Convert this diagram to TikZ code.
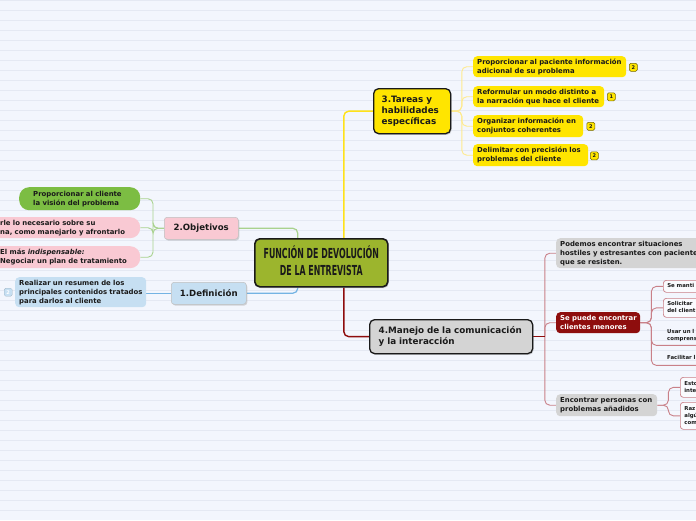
\documentclass[tikz,border=0pt]{standalone}
\usepackage{fontspec}
\usepackage{graphicx}
\setmainfont{DejaVu Sans}
\usetikzlibrary{shadows,backgrounds}
\definecolor{bg}{HTML}{F3F6FD}
\definecolor{bgl}{HTML}{E5E9F3}
\definecolor{txt}{HTML}{1A1A1A}
\definecolor{olive}{HTML}{9CB52D}
\definecolor{ylw}{HTML}{FFE500}
\definecolor{ylwline}{HTML}{FFE21A}
\definecolor{ylwsub}{HTML}{FFEA8C}
\definecolor{grey}{HTML}{D4D4D4}
\definecolor{dred}{HTML}{8E0D0D}
\definecolor{rose}{HTML}{C98088}
\definecolor{pink}{HTML}{F9C9D3}
\definecolor{grn}{HTML}{7CBD43}
\definecolor{grnline}{HTML}{A9D28E}
\definecolor{blu}{HTML}{C6DFF2}
\definecolor{bluline}{HTML}{74B3E3}
\newcommand{\linesL}[1]{\begin{tabular}{@{}l@{}}#1\end{tabular}}
\newcommand{\linesC}[1]{\begin{tabular}{@{}c@{}}#1\end{tabular}}
\tikzset{
  base/.style={anchor=north west, inner ysep=0pt, text=txt, align=left,
    font=\fontsize{6.9}{9}\selectfont\bfseries},
  yelbox/.style={base, fill=ylw, rounded corners=4, inner xsep=4pt},
  greybox/.style={base, fill=grey, rounded corners=4, inner xsep=4pt},
  redbox/.style={base, fill=dred, text=white, rounded corners=4, inner xsep=4pt},
  tinybox/.style={base, draw=rose, line width=0.7pt, fill=white!60!bg, rounded corners=3,
    inner xsep=4pt, font=\fontsize{5.4}{7}\selectfont\bfseries},
  tinyline/.style={base, inner xsep=4pt, font=\fontsize{5.4}{7}\selectfont\bfseries},
  mainbox/.style={anchor=north west, inner ysep=0pt, text=txt, align=left, draw=txt,
    line width=1.3pt, rounded corners=5, inner xsep=8pt,
    font=\fontsize{8.8}{11}\selectfont\bfseries,
    drop shadow={shadow xshift=1pt, shadow yshift=-1.3pt, opacity=.35}},
  leftbox/.style={anchor=north west, inner sep=0pt, text=txt, align=center,
    draw=black!25, line width=0.5pt, rounded corners=3,
    font=\fontsize{8.6}{11}\selectfont\bfseries,
    drop shadow={shadow xshift=1pt, shadow yshift=-1.3pt, opacity=.3}},
  pillbox/.style={base, rounded corners=10},
  badge/.style={anchor=north west, minimum size=8pt, inner sep=0pt, rounded corners=1.5,
    font=\fontsize{5}{5}\selectfont\bfseries},
  ylbadge/.style={badge, fill=ylw, draw=black!55!ylw, line width=0.5pt, text=txt},
  blbadge/.style={badge, fill=blu, draw=blu!80!black, line width=0.3pt, text=white},
  conn/.style={rounded corners=5, line width=1.4pt},
  subconn/.style={rounded corners=5, line width=0.9pt}
}
\begin{document}
\begin{tikzpicture}[x=1pt,y=-1pt]
\useasboundingbox (0,0) rectangle (696,520);
\clip (0,0) rectangle (696,520);

% ---------- nodes ----------
\node[mainbox, fill=olive, line width=1.6pt, inner xsep=0pt, align=center,
  minimum width=133pt, minimum height=48pt,
  font=\fontsize{13.8}{17}\selectfont\bfseries] (central) at (254,238)
  {\scalebox{0.57}[1]{\linesC{FUNCIÓN DE DEVOLUCIÓN\\DE LA ENTREVISTA}}};

% 3. Tareas
\node[mainbox, fill=ylw, minimum width=77pt, minimum height=45pt, text width=61pt]
  (tareas) at (373,88) {\linesL{3.Tareas y\\habilidades\\específicas}};
\node[yelbox, minimum width=153pt, minimum height=21pt, text width=145pt] (y1) at (473,56)
  {\linesL{Proporcionar al paciente información\\adicional de su problema}};
\node[yelbox, minimum width=131pt, minimum height=21pt, text width=123pt] (y2) at (473,86)
  {\linesL{Reformular un modo distinto a\\la narración que hace el cliente}};
\node[yelbox, minimum width=110pt, minimum height=22pt, text width=102pt] (y3) at (473,115)
  {\linesL{Organizar información en\\conjuntos coherentes}};
\node[yelbox, minimum width=115pt, minimum height=22pt, text width=107pt] (y4) at (473,144)
  {\linesL{Delimitar con precisión los\\problemas del cliente}};
\node[ylbadge] (b1) at (629,63) {2};
\node[ylbadge] (b2) at (607,92.5) {1};
\node[ylbadge] (b3) at (586.5,122) {2};
\node[ylbadge] (b4) at (590,151.5) {2};

% 4. Manejo
\node[mainbox, fill=grey, inner xsep=9pt, minimum width=163pt, minimum height=34pt, text width=145pt]
  (manejo) at (369,319) {\linesL{4.Manejo de la comunicación\\y la interacción}};
\node[greybox, minimum width=170pt, minimum height=30pt, text width=162pt] (podemos) at (556,238)
  {\linesL{Podemos encontrar situaciones\\hostiles y estresantes con pacientes\\que se resisten.}};
\node[redbox, minimum width=84pt, minimum height=21pt, text width=76pt] (sepuede) at (556,312)
  {\linesL{Se puede encontrar\\clientes menores}};
\node[greybox, minimum width=101pt, minimum height=22pt, text width=93pt] (encontrar) at (556,394)
  {\linesL{Encontrar personas con\\problemas añadidos}};

\node[tinybox, minimum width=50pt, minimum height=12pt, text width=42pt] (ss1) at (663,280)
  {\linesL{Se manti}};
\node[tinybox, minimum width=50pt, minimum height=19pt, text width=42pt] (ss2) at (663,298)
  {\linesL{Solicitar\\del client}};
\node[tinyline, minimum width=50pt, minimum height=19pt, text width=42pt] (ss3) at (663,326)
  {\linesL{Usar un l\\comprens}};
\node[tinyline, minimum width=50pt, minimum height=15pt, text width=42pt] (ss4) at (663,350)
  {\linesL{Facilitar l}};
\node[tinybox, minimum width=40pt, minimum height=20pt, text width=32pt] (e1) at (680,377)
  {\linesL{Esto\\inte}};
\node[tinybox, minimum width=40pt, minimum height=27pt, text width=32pt] (e2) at (680,402)
  {\linesL{Raz\\algú\\com}};

% 2. Objetivos
\node[leftbox, fill=pink, minimum width=74pt, minimum height=22pt] (objetivos) at (164,217)
  {2.Objetivos};
\node[pillbox, fill=grn, inner xsep=14pt, minimum width=121pt, minimum height=23pt, text width=93pt]
  (vision) at (19,187) {\linesL{Proporcionar al cliente\\la visión del problema}};
\node[pillbox, fill=pink, inner xsep=10pt, minimum width=150pt, minimum height=21pt, text width=130pt]
  (explicar) at (-10,217) {\linesL{rle lo necesario sobre su\\na, como manejarlo y afrontarlo}};
\node[pillbox, fill=pink, inner xsep=10pt, minimum width=150pt, minimum height=22pt, text width=130pt]
  (negociar) at (-10,246) {\linesL{El más \textit{indispensable:}\\Negociar un plan de tratamiento}};

% 1. Definicion
\node[leftbox, fill=blu, minimum width=75pt, minimum height=22pt] (definicion) at (171,282)
  {1.Definición};
\node[base, fill=blu, rounded corners=4, inner xsep=4pt, minimum width=131pt, minimum height=30pt,
  text width=123pt] (resumen) at (15,277)
  {\linesL{Realizar un resumen de los\\principales contenidos tratados\\para darlos al cliente}};
\node[blbadge] (b5) at (4,288) {2};

% ---------- background + connectors ----------
\begin{scope}[on background layer]
  \fill[bg] (0,0) rectangle (696,520);
  \foreach \yy in {0.5,10.5,...,520} \draw[bgl, line width=0.5pt] (0,\yy) -- (696,\yy);

  \draw[conn, ylwline] ([xshift=22.5pt]central.north) |- (tareas.west);
  \foreach \n in {y1,y2,y3,y4}
    \draw[subconn, ylwsub] (tareas.east) -- ++(10.5,0) |- (\n.west);

  \draw[conn, dred] ([xshift=22.5pt]central.south) |- (manejo.west);
  \foreach \n in {podemos,sepuede,encontrar}
    \draw[subconn, rose] (manejo.east) ++(11.5,0) |- (\n.west);
  \draw[line width=1pt, dred] (manejo.east) -- ++(11.5,0);
  \foreach \n in {ss1,ss2}
    \draw[subconn, rose] (sepuede.east) -- ++(11,0) |- (\n.west);
  \draw[subconn, rose] (sepuede.east) -- ++(11,0) |- (ss3.south west) -- (ss3.south east);
  \draw[subconn, rose] (sepuede.east) -- ++(11,0) |- (ss4.south west) -- (ss4.south east);
  \foreach \n in {e1,e2}
    \draw[subconn, rose] (encontrar.east) -- ++(11,0) |- (\n.west);

  \draw[conn, grnline, line width=1.2pt] (objetivos.east) -| ([xshift=-23.5pt]central.north);
  \foreach \n in {vision,explicar,negociar}
    \draw[subconn, grnline] (objetivos.west) -- ++(-11,0) |- (\n.east);

  \draw[conn, bluline, line width=1.2pt] (definicion.east) -| ([xshift=-23.5pt]central.south);
  \draw[subconn, bluline] (definicion.west) -- (definicion.west -| resumen.east);
\end{scope}
\end{tikzpicture}
\end{document}
